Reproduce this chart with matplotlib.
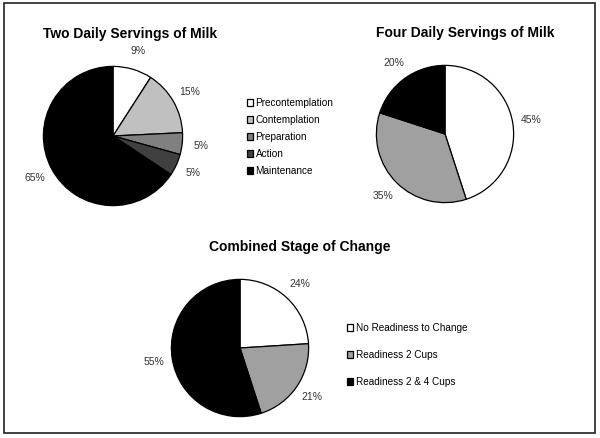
import matplotlib.pyplot as plt
from matplotlib.patches import Rectangle

plt.rcParams["font.family"] = ["Liberation Sans", "DejaVu Sans"]

# ------------------------------------------------------------
# DATA
# ------------------------------------------------------------
two_labels = ["Precontemplation", "Contemplation", "Preparation", "Action", "Maintenance"]
two_values = [9, 15, 5, 5, 65]
two_colors = ["#ffffff", "#c0c0c0", "#808080", "#404040", "#000000"]

four_labels = ["Precontemplation", "Contemplation", "Maintenance"]
four_values = [45, 35, 20]
four_colors = ["#ffffff", "#a0a0a0", "#000000"]

comb_labels = ["No Readiness to Change", "Readiness 2 Cups", "Readiness 2 & 4 Cups"]
comb_values = [24, 21, 55]
comb_colors = ["#ffffff", "#a0a0a0", "#000000"]

W, H = 600, 438
fig = plt.figure(figsize=(6, 4.38), dpi=100)


def px_axes(cx, cy, r):
    # square axes centred on pixel (cx, cy) with radius r in pixels
    return fig.add_axes([(cx - r) / W, (H - cy - r) / H, 2 * r / W, 2 * r / H])


def draw_pie(ax, values, colors):
    wedges, texts = ax.pie(
        values,
        colors=colors,
        labels=[f"{v}%" for v in values],
        labeldistance=1.27,
        startangle=90,
        counterclock=False,
        radius=1.0,
        wedgeprops=dict(edgecolor="black", linewidth=0.9),
        textprops=dict(fontsize=7.5, color="#333333"),
    )
    for t in texts:
        t.set_horizontalalignment("center")
    ax.set_xlim(-1.02, 1.02)
    ax.set_ylim(-1.02, 1.02)
    ax.set_aspect("equal")
    return wedges


# Two daily servings
ax1 = px_axes(113, 136, 71)
w1 = draw_pie(ax1, two_values, two_colors)
fig.text(130 / W, 1 - 34 / H, "Two Daily Servings of Milk", ha="center", va="center",
         fontsize=10, fontweight="bold")
fig.legend(w1, two_labels, loc="center left", bbox_to_anchor=(247 / W, 1 - 137 / H),
           frameon=False, fontsize=7.2, handlelength=0.6, handleheight=0.6,
           handletextpad=0.25, labelspacing=0.7, borderpad=0, borderaxespad=0)

# Four daily servings
ax2 = px_axes(445, 134, 70)
draw_pie(ax2, four_values, four_colors)
fig.text(465 / W, 1 - 33 / H, "Four Daily Servings of Milk", ha="center", va="center",
         fontsize=10, fontweight="bold")

# Combined stage
ax3 = px_axes(240, 348, 70)
w3 = draw_pie(ax3, comb_values, comb_colors)
fig.text(300 / W, 1 - 247 / H, "Combined Stage of Change", ha="center", va="center",
         fontsize=10, fontweight="bold")
fig.legend(w3, comb_labels, loc="center left", bbox_to_anchor=(347 / W, 1 - 355 / H),
           frameon=False, fontsize=7.2, handlelength=0.6, handleheight=0.6,
           handletextpad=0.25, labelspacing=1.7, borderpad=0, borderaxespad=0)

# outer border
fig.patches.append(Rectangle((4 / W, 1 - 433 / H), 591 / W, 430 / H, transform=fig.transFigure,
                             fill=False, edgecolor="#222222", linewidth=1.2))

fig.savefig("out.png", dpi=100)
